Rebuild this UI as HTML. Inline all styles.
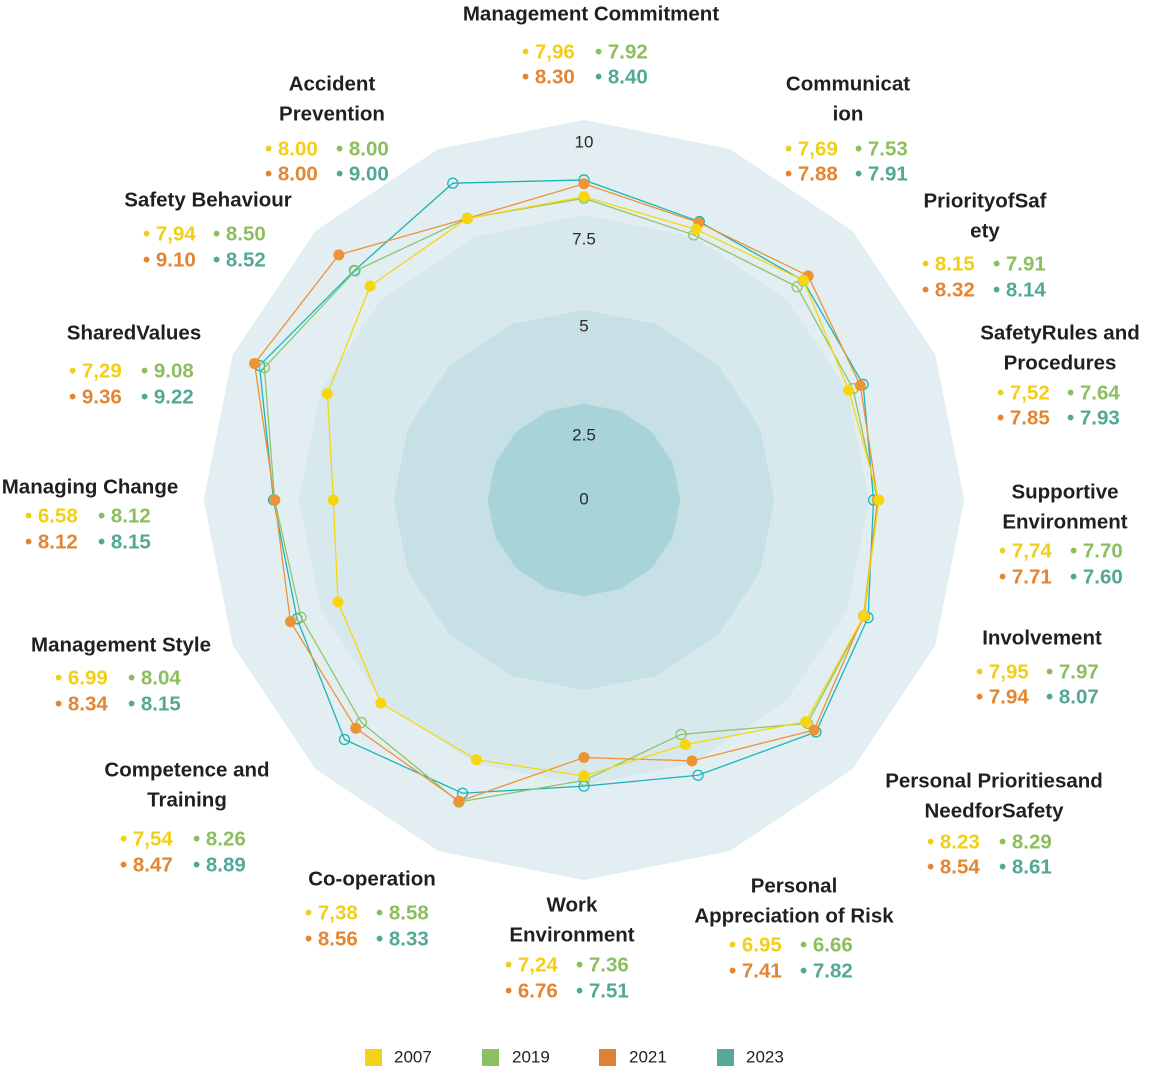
<!DOCTYPE html>
<html><head><meta charset="utf-8"><style>
html,body{margin:0;padding:0;background:#fff;}
svg{display:block;font-family:"Liberation Sans",sans-serif;}
.t{font-size:20.5px;font-weight:bold;fill:#231f20;text-anchor:middle;dominant-baseline:middle;}
.v{font-size:20.5px;font-weight:bold;dominant-baseline:middle;}
.y{fill:#f2cf17}.g{fill:#8bbf5e}.o{fill:#e38532}.c{fill:#52a896}
.ax{font-size:17px;fill:#2a2a2a;text-anchor:middle;dominant-baseline:middle;}
.lg{font-size:17px;fill:#231f20;dominant-baseline:middle;}
</style></head><body>
<svg id="s" width="1151" height="1073" viewBox="0 0 1151 1073" xmlns="http://www.w3.org/2000/svg">
<g id="rings"></g>
<text class="ax" x="584" y="143">10</text>
<text class="ax" x="584" y="240">7.5</text>
<text class="ax" x="584" y="327">5</text>
<text class="ax" x="584" y="436">2.5</text>
<text class="ax" x="584" y="500">0</text>
<g id="data"></g>

<text class="t" x="591" y="15">Management Commitment</text>
<text class="v y" x="522" y="53">• 7,96</text><text class="v g" x="595" y="53">• 7.92</text>
<text class="v o" x="522" y="78">• 8.30</text><text class="v c" x="595" y="78">• 8.40</text>

<text class="t" x="848" y="85">Communicat</text><text class="t" x="848" y="115">ion</text>
<text class="v y" x="785" y="150">• 7,69</text><text class="v g" x="855" y="150">• 7.53</text>
<text class="v o" x="785" y="175">• 7.88</text><text class="v c" x="855" y="175">• 7.91</text>

<text class="t" x="985" y="202">PriorityofSaf</text><text class="t" x="985" y="232">ety</text>
<text class="v y" x="922" y="265">• 8.15</text><text class="v g" x="993" y="265">• 7.91</text>
<text class="v o" x="922" y="291">• 8.32</text><text class="v c" x="993" y="291">• 8.14</text>

<text class="t" x="1060" y="334">SafetyRules and</text><text class="t" x="1060" y="364">Procedures</text>
<text class="v y" x="997" y="394">• 7,52</text><text class="v g" x="1067" y="394">• 7.64</text>
<text class="v o" x="997" y="419">• 7.85</text><text class="v c" x="1067" y="419">• 7.93</text>

<text class="t" x="1065" y="493">Supportive</text><text class="t" x="1065" y="523">Environment</text>
<text class="v y" x="999" y="552">• 7,74</text><text class="v g" x="1070" y="552">• 7.70</text>
<text class="v o" x="999" y="578">• 7.71</text><text class="v c" x="1070" y="578">• 7.60</text>

<text class="t" x="1042" y="639">Involvement</text>
<text class="v y" x="976" y="673">• 7,95</text><text class="v g" x="1046" y="673">• 7.97</text>
<text class="v o" x="976" y="698">• 7.94</text><text class="v c" x="1046" y="698">• 8.07</text>

<text class="t" x="994" y="782">Personal Prioritiesand</text><text class="t" x="994" y="812">NeedforSafety</text>
<text class="v y" x="927" y="843">• 8.23</text><text class="v g" x="999" y="843">• 8.29</text>
<text class="v o" x="927" y="868">• 8.54</text><text class="v c" x="999" y="868">• 8.61</text>

<text class="t" x="794" y="887">Personal</text><text class="t" x="794" y="917">Appreciation of Risk</text>
<text class="v y" x="729" y="946">• 6.95</text><text class="v g" x="800" y="946">• 6.66</text>
<text class="v o" x="729" y="972">• 7.41</text><text class="v c" x="800" y="972">• 7.82</text>

<text class="t" x="572" y="906">Work</text><text class="t" x="572" y="936">Environment</text>
<text class="v y" x="505" y="966">• 7,24</text><text class="v g" x="576" y="966">• 7.36</text>
<text class="v o" x="505" y="992">• 6.76</text><text class="v c" x="576" y="992">• 7.51</text>

<text class="t" x="372" y="880">Co-operation</text>
<text class="v y" x="305" y="914">• 7,38</text><text class="v g" x="376" y="914">• 8.58</text>
<text class="v o" x="305" y="940">• 8.56</text><text class="v c" x="376" y="940">• 8.33</text>

<text class="t" x="187" y="771">Competence and</text><text class="t" x="187" y="801">Training</text>
<text class="v y" x="120" y="840">• 7,54</text><text class="v g" x="193" y="840">• 8.26</text>
<text class="v o" x="120" y="866">• 8.47</text><text class="v c" x="193" y="866">• 8.89</text>

<text class="t" x="121" y="646">Management Style</text>
<text class="v y" x="55" y="679">• 6.99</text><text class="v g" x="128" y="679">• 8.04</text>
<text class="v o" x="55" y="705">• 8.34</text><text class="v c" x="128" y="705">• 8.15</text>

<text class="t" x="90" y="488">Managing Change</text>
<text class="v y" x="25" y="517">• 6.58</text><text class="v g" x="98" y="517">• 8.12</text>
<text class="v o" x="25" y="543">• 8.12</text><text class="v c" x="98" y="543">• 8.15</text>

<text class="t" x="134" y="334">SharedValues</text>
<text class="v y" x="69" y="372">• 7,29</text><text class="v g" x="141" y="372">• 9.08</text>
<text class="v o" x="69" y="398">• 9.36</text><text class="v c" x="141" y="398">• 9.22</text>

<text class="t" x="208" y="201">Safety Behaviour</text>
<text class="v y" x="143" y="235">• 7,94</text><text class="v g" x="213" y="235">• 8.50</text>
<text class="v o" x="143" y="261">• 9.10</text><text class="v c" x="213" y="261">• 8.52</text>

<text class="t" x="332" y="85">Accident</text><text class="t" x="332" y="115">Prevention</text>
<text class="v y" x="265" y="150">• 8.00</text><text class="v g" x="336" y="150">• 8.00</text>
<text class="v o" x="265" y="175">• 8.00</text><text class="v c" x="336" y="175">• 9.00</text>

<rect x="365" y="1049" width="17" height="17" fill="#f2d31c"/><text class="lg" x="394" y="1058">2007</text>
<rect x="482" y="1049" width="17" height="17" fill="#8cc063"/><text class="lg" x="512" y="1058">2019</text>
<rect x="599" y="1049" width="17" height="17" fill="#e08133"/><text class="lg" x="629" y="1058">2021</text>
<rect x="717" y="1049" width="17" height="17" fill="#57a896"/><text class="lg" x="746" y="1058">2023</text>
</svg>
<script>
(function(){
var NS="http://www.w3.org/2000/svg",cx=584,cy=500,k=38.1;
function pt(i,r){var a=i*Math.PI/8;return [cx+r*Math.sin(a),cy-r*Math.cos(a)];}
var rings=[[370,"#e3eef2"],[275,"#d8e9ee"],[180,"#c6e0e5"],[86,"#a8d3d9"]];
var rg=document.getElementById("rings");
rings.forEach(function(q){var p=[];for(var i=0;i<16;i++)p.push(pt(i,q[0]).join(","));
var e=document.createElementNS(NS,"polygon");e.setAttribute("points",p.join(" "));
e.setAttribute("fill",q[1]);e.setAttribute("stroke",q[1]);e.setAttribute("stroke-width","20");e.setAttribute("stroke-linejoin","round");rg.appendChild(e);});
var V=[[7.96,7.92,8.30,8.40],[7.69,7.53,7.88,7.91],[8.15,7.91,8.32,8.14],[7.52,7.64,7.85,7.93],[7.74,7.70,7.71,7.60],[7.95,7.97,7.94,8.07],[8.23,8.29,8.54,8.61],[6.95,6.66,7.41,7.82],[7.24,7.36,6.76,7.51],[7.38,8.58,8.56,8.33],[7.54,8.26,8.47,8.89],[6.99,8.04,8.34,8.15],[6.58,8.12,8.12,8.15],[7.29,9.08,9.36,9.22],[7.94,8.50,9.10,8.52],[8.00,8.00,8.00,9.00]];
var S=[[3,"#1ab4b9",false],[1,"#8ec56c",false],[2,"#ec9336",true],[0,"#f7d60f",true]];
var dg=document.getElementById("data");
S.forEach(function(s){var j=s[0],p=[];for(var i=0;i<16;i++)p.push(pt(i,V[i][j]*k));
var e=document.createElementNS(NS,"polygon");e.setAttribute("points",p.map(function(q){return q.join(",")}).join(" "));
e.setAttribute("fill","none");e.setAttribute("stroke",s[1]);e.setAttribute("stroke-width","1.3");dg.appendChild(e);
p.forEach(function(q){var c=document.createElementNS(NS,"circle");c.setAttribute("cx",q[0]);c.setAttribute("cy",q[1]);
c.setAttribute("r",s[2]?5.5:5);c.setAttribute("fill",s[2]?s[1]:"none");c.setAttribute("stroke",s[1]);c.setAttribute("stroke-width",s[2]?0:1.3);dg.appendChild(c);});});
})();
</script>
</body></html>
